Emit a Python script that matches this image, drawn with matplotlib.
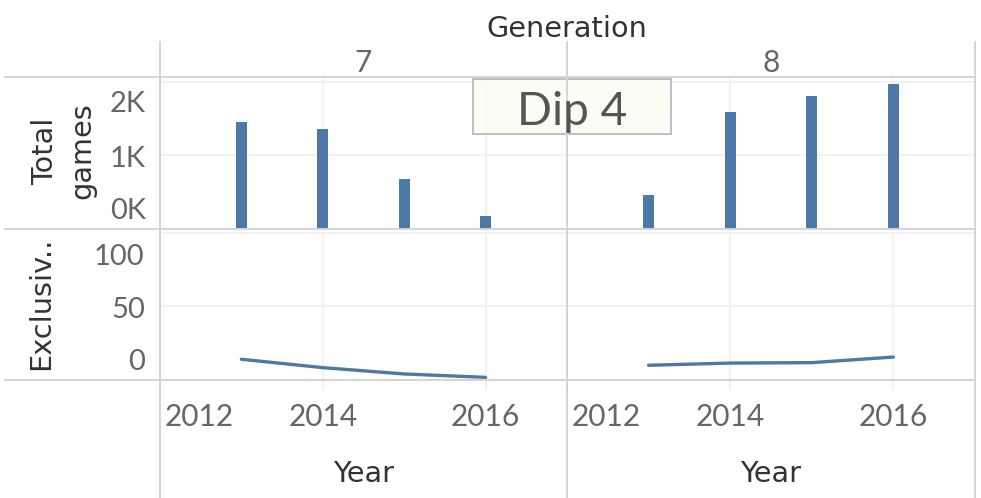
import matplotlib.pyplot as plt
from matplotlib.lines import Line2D
from matplotlib.patches import Rectangle
from matplotlib.ticker import FixedLocator
from matplotlib.transforms import ScaledTranslation

plt.rcParams['font.family'] = ['Lato', 'DejaVu Sans']
TITLE_FONT = ['DejaVu Sans']

# data
generations = ['7', '8']
years = [2013, 2014, 2015, 2016]
total_gen7 = [1456, 1361, 680, 177]
total_gen8 = [463, 1592, 1810, 1973]
exclusive_gen7 = [14.1, 8.4, 4.1, 1.8]
exclusive_gen8 = [10.0, 11.5, 11.8, 15.6]

x_ticks = [2012, 2014, 2016]
x_tick_labels = ['2012', '2014', '2016']
total_grid = [0, 1000, 2000]
total_tick_pos = [280, 980, 1730]
total_tick_labels = ['0K', '1K', '2K']
exclusive_grid = [0, 50, 100]
exclusive_tick_pos = [14, 49, 85.5]
exclusive_tick_labels = ['0', '50', '100']

totals = [total_gen7, total_gen8]
exclusives = [exclusive_gen7, exclusive_gen8]

W, H = 981, 498
fig = plt.figure(figsize=(W / 100, H / 100), dpi=100)


def rect(x0, y0, x1, y1):
    return [x0 / W, 1 - y1 / H, (x1 - x0) / W, (y1 - y0) / H]


def fx(x):
    return x / W


def fy(y):
    return 1 - y / H


blue = '#4e79a7'
sep = '#d4d4d4'
grid = '#efefef'
dark = '#333333'
gray = '#666666'

col_x = [160, 567, 975]
row_y = [77, 229, 380]

for c, gen in enumerate(generations):
    ax_top = fig.add_axes(rect(col_x[c], row_y[0], col_x[c + 1], row_y[1]))
    ax_bot = fig.add_axes(rect(col_x[c], row_y[1], col_x[c + 1], row_y[2]))
    for ax in (ax_top, ax_bot):
        ax.patch.set_alpha(0)
        for s in ax.spines.values():
            s.set_visible(False)
        ax.set_xlim(2012, 2017)
        ax.set_xticks(x_ticks)
        ax.grid(axis='x', which='major', color=grid, lw=1.2, zorder=0)

    # bars: total games
    ax_top.bar(years, totals[c], width=0.135, color=blue, zorder=3)
    ax_top.set_ylim(0, 2068)
    ax_top.yaxis.set_minor_locator(FixedLocator(total_grid))
    ax_top.grid(axis='y', which='minor', color=grid, lw=1.2, zorder=0)
    ax_top.set_yticks(total_tick_pos, total_tick_labels)
    ax_top.tick_params(axis='x', length=0, labelbottom=False)
    ax_top.tick_params(axis='y', which='both', length=0, labelsize=21,
                       labelcolor=gray, pad=10, labelleft=(c == 0))

    # line: exclusives
    ax_bot.plot(years, exclusives[c], color=blue, lw=2.4,
                solid_capstyle='round', zorder=3)
    ax_bot.set_ylim(0, 102.6)
    ax_bot.yaxis.set_minor_locator(FixedLocator(exclusive_grid))
    ax_bot.grid(axis='y', which='minor', color=grid, lw=1.2, zorder=0)
    ax_bot.set_yticks(exclusive_tick_pos, exclusive_tick_labels)
    ax_bot.tick_params(axis='y', which='both', length=0, labelsize=21,
                       labelcolor=gray, pad=11, labelleft=(c == 0))
    ax_bot.set_xticks(x_ticks, x_tick_labels)
    ax_bot.tick_params(axis='x', length=7, width=1.2, color=grid,
                       labelsize=21.5, labelcolor=gray, pad=9.5)
    first = ax_bot.get_xticklabels()[0]
    first.set_horizontalalignment('left')
    first.set_transform(first.get_transform()
                        + ScaledTranslation(5 / 100, 0, fig.dpi_scale_trans))

    cx = (col_x[c] + col_x[c + 1]) / 2
    fig.text(fx(cx), fy(72), gen, ha='center', va='baseline',
             fontsize=21.5, color=gray)
    fig.text(fx(cx), fy(482), 'Year', ha='center', va='baseline',
             fontsize=20.7, color=dark, family=TITLE_FONT)

# header and row labels
fig.text(fx(567), fy(37), 'Generation', ha='center', va='baseline',
         fontsize=20.7, color=dark, family=TITLE_FONT)
fig.text(fx(64), fy(151), 'Total\ngames', ha='center', va='center',
         rotation=90, fontsize=20.7, color=dark, linespacing=1.4,
         family=TITLE_FONT)
fig.text(fx(41), fy(303), 'Exclusiv..', ha='center', va='center',
         rotation=90, fontsize=20.7, color=dark, family=TITLE_FONT)

# table separators
for y in row_y:
    fig.add_artist(Line2D([fx(5), fx(975)], [fy(y), fy(y)], color=sep, lw=1.4))
for x in col_x:
    fig.add_artist(Line2D([fx(x), fx(x)], [fy(42), fy(498)], color=sep, lw=1.4))

# annotation box
box = Rectangle((fx(473), fy(134)), fx(671) - fx(473), fy(79) - fy(134),
                transform=fig.transFigure, facecolor='#fdfcf2', alpha=0.8,
                edgecolor='#a8a8a8', lw=1.3)
fig.add_artist(box)
fig.text(fx(572), fy(125), 'Dip 4', ha='center', va='baseline',
         fontsize=33, color='#555555')

fig.savefig('out.png', dpi=100)
